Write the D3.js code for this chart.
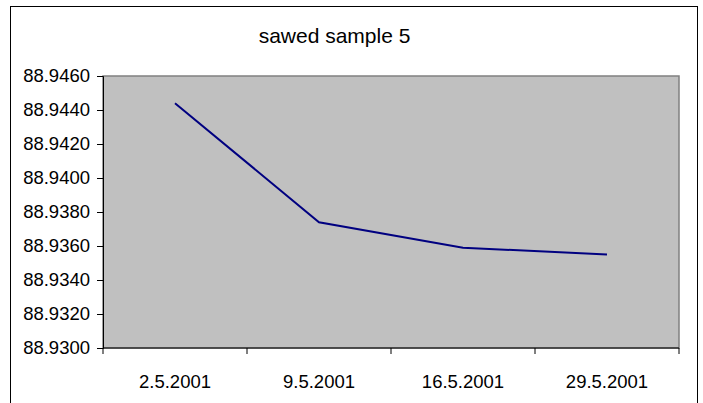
<!DOCTYPE html>
<html>
<head>
<meta charset="utf-8">
<script src="https://cdn.jsdelivr.net/npm/d3@7"></script>
<style>
  html, body { margin: 0; padding: 0; background: #fff; }
  svg { display: block; font-family: "Liberation Sans", Arial, sans-serif; }
</style>
</head>
<body>
<svg id="chart" width="703" height="403"></svg>
<script>
// Measurement dates and values for sawed sample 5
const dates = ["2.5.2001", "9.5.2001", "16.5.2001", "29.5.2001"];
const values = [88.9444, 88.9374, 88.9359, 88.9355];
const yTicks = [88.9300, 88.9320, 88.9340, 88.9360, 88.9380, 88.9400, 88.9420, 88.9440, 88.9460];
const title = "sawed sample 5";

const W = 703, H = 403;
const plot = { left: 103, top: 76, right: 679, bottom: 348 };

const svg = d3.select("#chart");

// outer chart frame
svg.append("rect")
  .attr("x", 10.5).attr("y", 6.5)
  .attr("width", 697 - 10).attr("height", H)
  .attr("fill", "#fff").attr("stroke", "#000").attr("stroke-width", 1);

const x = d3.scaleBand().domain(dates).range([plot.left, plot.right]);
const y = d3.scaleLinear().domain([88.9300, 88.9460]).range([plot.bottom, plot.top]);

// plot area
svg.append("rect")
  .attr("x", plot.left).attr("y", plot.top)
  .attr("width", plot.right - plot.left).attr("height", plot.bottom - plot.top)
  .attr("fill", "#c0c0c0").attr("stroke", "#808080").attr("stroke-width", 1.5);

// title
svg.append("text")
  .attr("x", 334.5).attr("y", 43)
  .attr("text-anchor", "middle")
  .attr("font-size", 21)
  .attr("fill", "#000")
  .text(title);

// y axis
const yAxis = d3.axisLeft(y)
  .tickValues(yTicks)
  .tickFormat(d3.format(".4f"))
  .tickSizeOuter(0)
  .tickSize(6)
  .tickPadding(7);
const gy = svg.append("g").attr("transform", `translate(${plot.left},0)`).call(yAxis);
gy.select(".domain").attr("stroke", "#000");
gy.selectAll(".tick line").attr("stroke", "#000");
gy.selectAll(".tick text")
  .attr("font-size", 18.5)
  .attr("font-family", "Liberation Sans, Arial, sans-serif")
  .attr("fill", "#000");

// x axis: ticks sit on the category boundaries
const gx = svg.append("g").attr("transform", `translate(0,${plot.bottom})`);
gx.append("line")
  .attr("x1", plot.left).attr("x2", plot.right)
  .attr("y1", 0).attr("y2", 0)
  .attr("stroke", "#000");
const boundaries = dates.map(d => x(d)).concat([x(dates[dates.length - 1]) + x.bandwidth()]);
gx.selectAll("line.tick")
  .data(boundaries)
  .join("line")
  .attr("class", "tick")
  .attr("x1", d => d).attr("x2", d => d)
  .attr("y1", 0).attr("y2", 6)
  .attr("stroke", "#000");
gx.selectAll("text")
  .data(dates)
  .join("text")
  .attr("x", d => x(d) + x.bandwidth() / 2)
  .attr("y", 40)
  .attr("text-anchor", "middle")
  .attr("font-size", 18.5)
  .attr("fill", "#000")
  .text(d => d);

// data line
const line = d3.line()
  .x((d, i) => x(dates[i]) + x.bandwidth() / 2)
  .y(d => y(d));
svg.append("path")
  .datum(values)
  .attr("d", line)
  .attr("fill", "none")
  .attr("stroke", "#000080")
  .attr("stroke-width", 2);
</script>
</body>
</html>
